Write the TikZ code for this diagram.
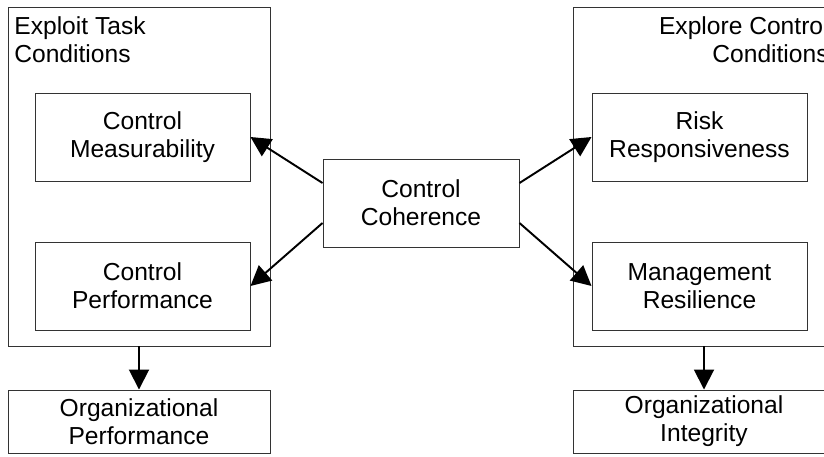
\documentclass[tikz,border=0pt]{standalone}
\usepackage{fontspec}
\setmainfont{Liberation Sans}
\usepackage{tikz}
\usetikzlibrary{arrows.meta,positioning,calc}

\begin{document}
\begin{tikzpicture}[
  font=\fontsize{14}{16}\selectfont,
  frame/.style={draw=black!80,line width=0.55pt,minimum width=5.24cm,
    minimum height=6.78cm,inner sep=0pt},
  factor/.style={draw=black!80,fill=white,line width=0.55pt,
    minimum width=4.3cm,minimum height=1.76cm,align=center,inner sep=2pt},
  outcome/.style={draw=black!80,line width=0.55pt,minimum width=5.24cm,
    minimum height=1.26cm,align=center,inner sep=1pt},
  link/.style={-{Triangle[length=4mm,width=4mm]},draw=black,line width=1.1pt}
]
\useasboundingbox (0,0) rectangle (16.48,-9.12);
\clip (0,0) rectangle (16.48,-9.12);
% left column
\node[frame] (exploit) at (2.78,-3.53) {};
\node[anchor=north west,align=left,inner xsep=0.13cm,inner ysep=0.2cm]
  at (exploit.north west) {Exploit Task\\Conditions};
\node[factor] (meas) at (2.85,-2.74) {Control\\Measurability};
\node[factor] (perf) at (2.85,-5.72) {Control\\Performance};
\node[outcome] (orgperf) at (2.78,-8.43) {Organizational\\Performance};
% right column
\node[frame] (explore) at (14.08,-3.53) {};
\node[anchor=north east,align=right,inner xsep=0.13cm,inner ysep=0.2cm]
  at (explore.north east) {Explore Control\\Conditions};
\node[factor] (risk) at (13.99,-2.74) {Risk\\Responsiveness};
\node[factor] (resil) at (13.99,-5.72) {Management\\Resilience};
\node[outcome] (orgint) at (14.08,-8.43) {Organizational\\Integrity};
% centre
\node[factor,minimum width=3.92cm] (coh) at (8.42,-4.06) {Control\\Coherence};
\draw[link] ($(coh.west)+(0,0.4)$) -- (meas.east);
\draw[link] ($(coh.west)+(0,-0.4)$) -- (perf.east);
\draw[link] ($(coh.east)+(0,0.4)$) -- (risk.west);
\draw[link] ($(coh.east)+(0,-0.4)$) -- (resil.west);
\draw[link] (exploit.south) -- (orgperf.north);
\draw[link] (explore.south) -- (orgint.north);
\end{tikzpicture}
\end{document}
